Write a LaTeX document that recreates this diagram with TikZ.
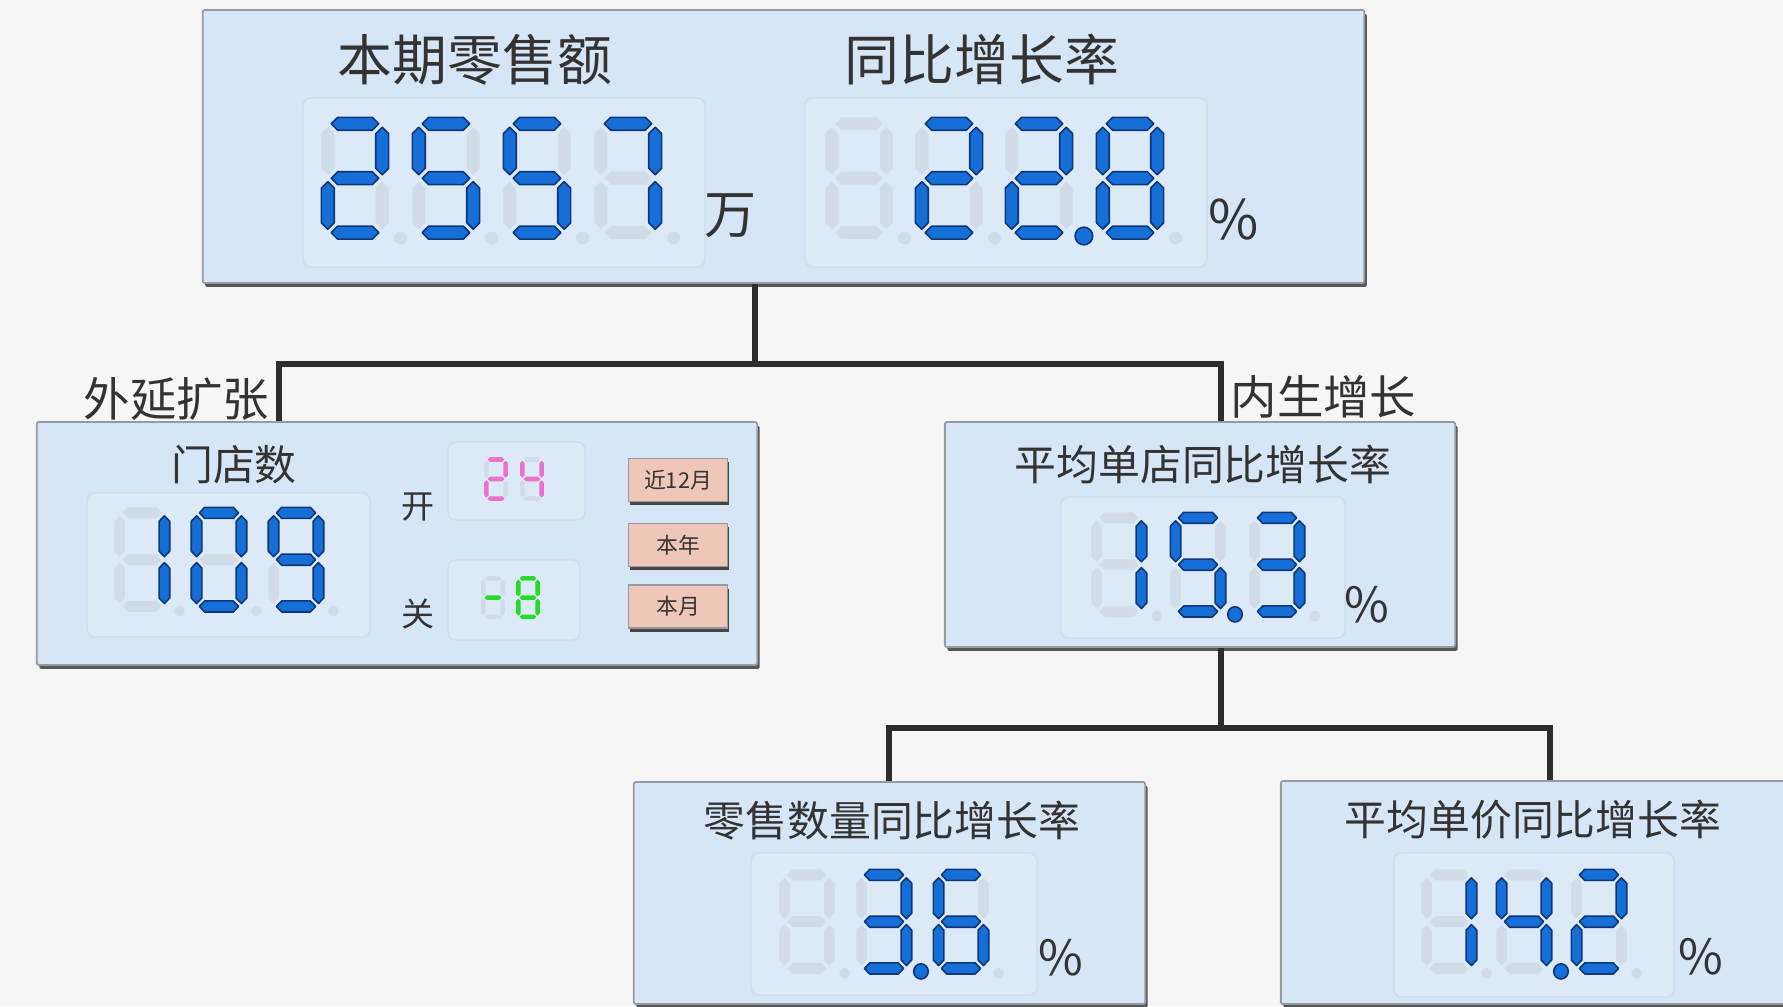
\documentclass[tikz,border=0pt]{standalone}
\usepackage{fontspec}
\setmainfont{Noto Sans CJK SC}
\usetikzlibrary{shadows}
\definecolor{pagebg}{RGB}{246,246,246}
\definecolor{boxbg}{RGB}{214,230,246}
\definecolor{boxline}{RGB}{150,155,160}
\definecolor{shadowcol}{RGB}{70,70,70}
\definecolor{dispbg}{RGB}{220,233,247}
\definecolor{displine}{RGB}{207,220,235}
\definecolor{offseg}{RGB}{209,220,232}
\definecolor{blueseg}{RGB}{22,110,215}
\definecolor{bluedark}{RGB}{15,55,120}
\definecolor{pinkseg}{RGB}{236,112,206}
\definecolor{greenseg}{RGB}{40,218,40}
\definecolor{btnbg}{RGB}{238,199,184}
\definecolor{txt}{RGB}{51,51,51}
\definecolor{connc}{RGB}{45,45,45}

\newcommand\hseg[3]{(#2,#1) -- ({#2+0.95},{#1-0.95}) -- ({#3-0.95},{#1-0.95}) -- (#3,#1) -- ({#3-0.95},{#1+0.95}) -- ({#2+0.95},{#1+0.95}) -- cycle}
\newcommand\vseg[3]{(#1,#2) -- ({#1+0.95},{#2+0.95}) -- ({#1+0.95},{#3-0.95}) -- (#1,#3) -- ({#1-0.95},{#3-0.95}) -- ({#1-0.95},{#2+0.95}) -- cycle}
\def\setflags#1#2#3#4#5#6#7\relax{\def\fA{#1}\def\fB{#2}\def\fC{#3}\def\fD{#4}\def\fE{#5}\def\fF{#6}\def\fG{#7}}
% #1 x, #2 y, #3 xscale, #4 yscale, #5 flags abcdefg, #6 dp (1 on, 0 off, -1 none)
\newcommand\sdig[6]{%
  \begin{scope}[shift={(#1,#2)}, xscale=#3, yscale=#4]
    \setflags#5\relax
    \path[segst=\fA] \hseg{1}{1.5}{8.5};
    \path[segst=\fB] \vseg{9}{1.5}{8.5};
    \path[segst=\fC] \vseg{9}{9.5}{16.5};
    \path[segst=\fD] \hseg{17}{1.5}{8.5};
    \path[segst=\fE] \vseg{1}{9.5}{16.5};
    \path[segst=\fF] \vseg{1}{1.5}{8.5};
    \path[segst=\fG] \hseg{9}{1.5}{8.5};
    \ifnum#6=1\relax \path[segon] (11.6,17.5) circle[radius=1.3];\fi
    \ifnum#6=0\relax \path[segoff] (11.7,17.8) circle[radius=0.95];\fi
  \end{scope}}

\begin{document}
\begin{tikzpicture}[x=0.01cm, y=-0.01cm,
  segon/.style={fill=blueseg, draw=bluedark, line width=0.45pt, line join=round},
  segoff/.style={fill=offseg},
  segst/.code={\ifnum#1=1\relax\tikzset{segon}\else\tikzset{segoff}\fi},
  box/.style={draw=boxline, fill=boxbg, line width=0.5pt, rounded corners=0.6pt, inner sep=0pt,
    drop shadow={shadow xshift=0.7pt, shadow yshift=-1.1pt, fill=shadowcol, opacity=0.9}},
  disp/.style={fill=dispbg, draw=displine, line width=0.4pt, rounded corners=2.2pt},
  btn/.style={fill=btnbg, draw=boxline, line width=0.3pt, inner sep=0pt, minimum width=0.99cm, minimum height=0.43cm,
    text=txt, font=\fontsize{6.2pt}{7pt}\selectfont,
    drop shadow={shadow xshift=0.5pt, shadow yshift=-1.0pt, fill=shadowcol, opacity=1}},
  conn/.style={draw=connc, line width=1.7pt, line join=miter},
  tbig/.style={text=txt, inner sep=0pt, font=\fontsize{15.6pt}{18pt}\selectfont},
  tlabel/.style={text=txt, inner sep=0pt, font=\fontsize{13.2pt}{15pt}\selectfont},
  tmid/.style={text=txt, inner sep=0pt, font=\fontsize{11.9pt}{14pt}\selectfont},
  tsm/.style={text=txt, inner sep=0pt, font=\fontsize{9.4pt}{11pt}\selectfont},
  tunit/.style={text=txt, inner sep=0pt, font=\fontsize{14.8pt}{17pt}\selectfont},
  tpct/.style={text=txt, inner sep=0pt, font=\fontsize{15.5pt}{17pt}\selectfont},
  tpctm/.style={text=txt, inner sep=0pt, font=\fontsize{13.8pt}{16pt}\selectfont}]
\useasboundingbox (0,0) rectangle (1783,1006);
\clip (0,0) rectangle (1783,1006);
\fill[pagebg] (0,0) rectangle (1783,1006);

% connectors (behind boxes)
\coordinate (j1) at (755,364);
\coordinate (lx) at (279,364);
\coordinate (rx) at (1221,364);
\coordinate (j2) at (1221,728);
\coordinate (blx) at (889,728);
\coordinate (brx) at (1550,728);

% boxes
\node[box, minimum width=11.61cm, minimum height=2.73cm] (top) at (783.5,146.5) {};
\node[box, minimum width=7.20cm, minimum height=2.43cm] (left) at (397,543.5) {};
\node[box, minimum width=5.10cm, minimum height=2.25cm] (right) at (1200,534.5) {};
\node[box, minimum width=5.11cm, minimum height=2.22cm] (bl) at (889.5,893) {};
\node[box, minimum width=5.38cm, minimum height=2.23cm] (br) at (1550,892.5) {};

\draw[conn] (top.south -| j1) -- (j1);
\draw[conn] (left.north -| lx) -- (lx) -- (rx) -- (right.north -| rx);
\draw[conn] (right.south -| j2) -- (j2);
\draw[conn] (bl.north -| blx) -- (blx) -- (brx) -- (br.north -| brx);

% display backgrounds
\path[disp] (303,98) rectangle (705,267);
\path[disp] (805,98) rectangle (1207,267);
\path[disp] (87,493) rectangle (370,637);
\path[disp] (448,442) rectangle (585,520);
\path[disp] (448,560) rectangle (580,640);
\path[disp] (1061,497) rectangle (1345,638);
\path[disp] (751,853) rectangle (1037,995);
\path[disp] (1394,853) rectangle (1674,997);

% top display 1: 2557
\sdig{321}{117}{6.8}{6.8}{1101101}{0}
\sdig{412}{117}{6.8}{6.8}{1011011}{0}
\sdig{503}{117}{6.8}{6.8}{1011011}{0}
\sdig{594}{117}{6.8}{6.8}{1110000}{0}
% top display 2: 22.8
\sdig{825}{117}{6.8}{6.8}{0000000}{0}
\sdig{915}{117}{6.8}{6.8}{1101101}{0}
\sdig{1005}{117}{6.8}{6.8}{1101101}{1}
\sdig{1096}{117}{6.8}{6.8}{1111111}{0}
% 109
\sdig{114}{507}{5.6}{5.85}{0110000}{0}
\sdig{191}{507}{5.6}{5.85}{1111110}{0}
\sdig{268}{507}{5.6}{5.85}{1111011}{0}
% 15.3
\sdig{1091}{512}{5.6}{5.85}{0110000}{0}
\sdig{1170}{512}{5.6}{5.85}{1011011}{1}
\sdig{1249}{512}{5.6}{5.85}{1111001}{0}
% 3.6
\sdig{779}{869}{5.6}{5.85}{0000000}{0}
\sdig{856}{869}{5.6}{5.85}{1111001}{1}
\sdig{933}{869}{5.6}{5.85}{1011111}{0}
% 14.2
\sdig{1421}{869}{5.6}{5.85}{0110000}{0}
\sdig{1496}{869}{5.6}{5.85}{0110011}{1}
\sdig{1571}{869}{5.6}{5.85}{1101101}{0}
% small displays
\begin{scope}[segon/.style={fill=pinkseg}]
\sdig{484}{457}{2.4}{2.45}{1101101}{-1}
\sdig{520}{457}{2.4}{2.45}{0110011}{-1}
\end{scope}
\begin{scope}[segon/.style={fill=greenseg}]
\sdig{481}{576}{2.4}{2.4}{0000001}{-1}
\sdig{516}{576}{2.4}{2.4}{1111111}{-1}
\end{scope}

% texts
\node[tbig] (t1) at (475,60) {本期零售额};
\node[tbig] (t2) at (982,60) {同比增长率};
\node[tunit] (u1) at (731,216) {万};
\node[tpct] (u2) at (1234,220) {\%};
\node[tlabel, anchor=east] (l1) at (270,399) {外延扩张};
\node[tlabel, anchor=west] (l2) at (1230,397) {内生增长};
\node[tmid] (t3) at (234,465) {门店数};
\node[tsm] (k1) at (418,507) {开};
\node[tsm] (k2) at (418,614) {关};
\node[btn] (b1) at (678,480) {近12月};
\node[btn] (b2) at (678,545) {本年};
\node[btn] (b3) at (678,606.5) {本月};
\node[tmid] (t4) at (1203,464) {平均单店同比增长率};
\node[tpctm] (u3) at (1367,605) {\%};
\node[tmid] (t5) at (892,821) {零售数量同比增长率};
\node[tpctm] (u4) at (1061,958) {\%};
\node[tmid] (t6) at (1533,820) {平均单价同比增长率};
\node[tpctm] (u5) at (1701,957) {\%};
\end{tikzpicture}
\end{document}
